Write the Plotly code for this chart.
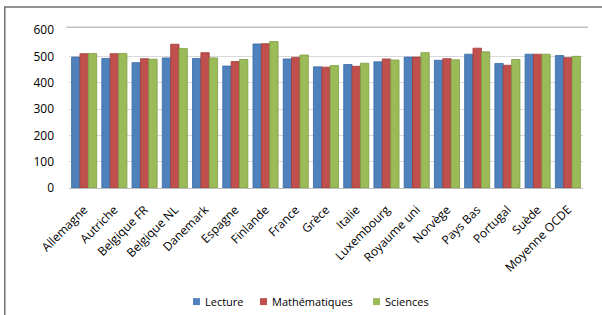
import plotly.graph_objects as go

categories = ["Allemagne", "Autriche", "Belgique FR", "Belgique NL", "Danemark", "Espagne",
              "Finlande", "France", "Grèce", "Italie", "Luxembourg", "Royaume uni", "Norvège",
              "Pays Bas", "Portugal", "Suède", "Moyenne OCDE"]
lecture = [497, 492, 476, 494, 492, 463, 547, 490, 460, 469, 479, 497, 485, 508, 473, 508, 503]
mathematiques = [510, 510, 491, 546, 514, 480, 548, 496, 459, 462, 490, 497, 491, 531, 466, 508, 495]
sciences = [511, 511, 489, 530, 494, 488, 556, 505, 465, 474, 486, 514, 487, 517, 488, 508, 500]
y_ticks = [0, 100, 200, 300, 400, 500, 600]

series_names = ["Lecture", "Mathématiques", "Sciences"]
series_values = [lecture, mathematiques, sciences]
colors = ["#4F81BD", "#C0504D", "#9BBB59"]
edges = ["#3A6AA3", "#9E3B38", "#7E9C42"]

fig = go.Figure()
for name, vals, col, edge in zip(series_names, series_values, colors, edges):
    fig.add_trace(go.Bar(x=categories, y=vals, name=name, showlegend=False,
                         marker=dict(color=col, line=dict(color=edge, width=0.8))))

# manual legend (small squares close to the text, as in the reference)
legend_x = [0.2412, 0.3716, 0.5914]
sq_w = 0.0136
shapes = [dict(type="rect", xref="paper", yref="paper", x0=-0.125, x1=1.2,
               y0=-1.2, y1=1.146, line=dict(color="#707070", width=1.5), layer="below"),
          # top edge of the back wall
          dict(type="line", xref="paper", yref="paper", x0=-0.005, x1=1.01,
               y0=1.018, y1=1.018, line=dict(color="#BFBFBF", width=1.5))]
annotations = []
for name, col, lx in zip(series_names, colors, legend_x):
    shapes.append(dict(type="rect", xref="paper", yref="paper", x0=lx, x1=lx + sq_w,
                       y0=-0.741, y1=-0.697, fillcolor=col, line=dict(width=0)))
    annotations.append(dict(xref="paper", yref="paper", x=lx + sq_w + 0.006, y=-0.719,
                            xanchor="left", yanchor="middle", text=name, showarrow=False,
                            font=dict(size=11, color="#000000")))

fig.update_layout(
    width=602, height=315,
    margin=dict(l=69, r=19, t=30, b=127, autoexpand=False),
    paper_bgcolor="white", plot_bgcolor="white",
    font=dict(family="Open Sans, Liberation Sans, sans-serif", size=11, color="#000000"),
    barmode="group", bargap=0.17, bargroupgap=0.0,
    xaxis=dict(tickangle=-45, showgrid=False, ticks="", showline=True,
               linecolor="#BFBFBF", tickfont=dict(size=12), automargin=False,
               ticklabelstandoff=9),
    yaxis=dict(range=[0, 600], tickvals=y_ticks, showgrid=True, gridcolor="#D9D9D9",
               gridwidth=1, zeroline=False, showline=False, ticks="",
               tickfont=dict(size=12), ticklabelstandoff=14, automargin=False),
    shapes=shapes,
    annotations=annotations,
)

fig.write_html("out.html", config={"displayModeBar": False},
               post_script="document.body.style.margin='0';")
